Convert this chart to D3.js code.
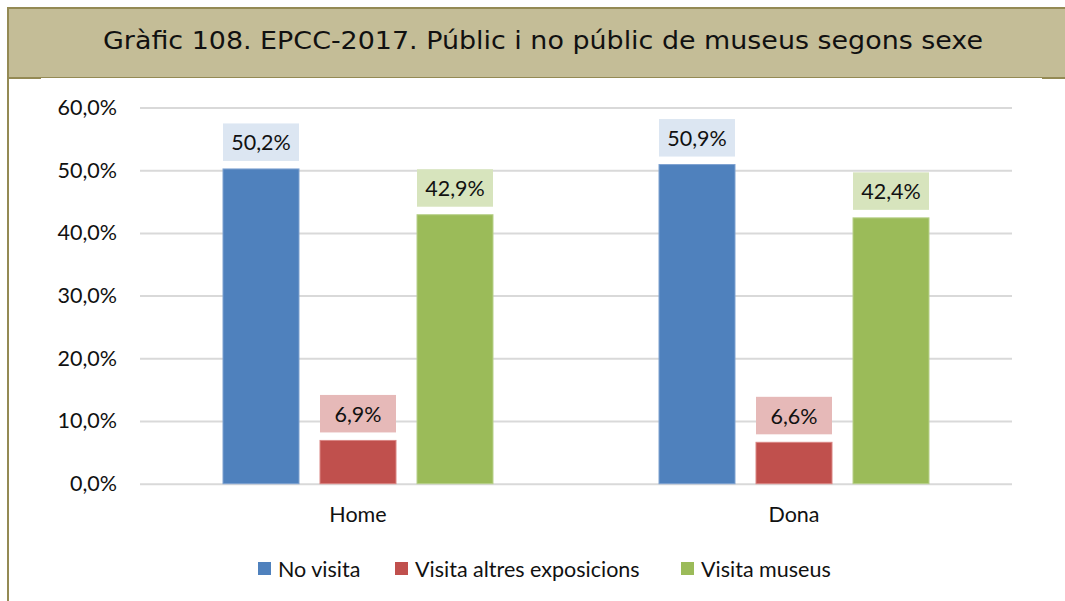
<!DOCTYPE html>
<html>
<head>
<meta charset="utf-8">
<script src="https://cdn.jsdelivr.net/npm/d3@7"></script>
<style>
  html, body { margin: 0; padding: 0; background: #fff; }
  svg { display: block; }
</style>
</head>
<body>
<svg id="chart" width="1065" height="601"></svg>
<script>
const title = "Gràfic 108. EPCC-2017. Públic i no públic de museus segons sexe";
const categories = ["Home", "Dona"];
const seriesNames = ["No visita", "Visita altres exposicions", "Visita museus"];
const noVisita = [50.2, 50.9];
const visitaAltres = [6.9, 6.6];
const visitaMuseus = [42.9, 42.4];
const yTicks = [0, 10, 20, 30, 40, 50, 60];

const seriesValues = [noVisita, visitaAltres, visitaMuseus];
const barColors = ["#4f81bd", "#c0504d", "#9bbb59"];
const labelFills = ["#dce6f2", "#e6b9b8", "#d7e4bd"];
const edgeColors = ["#7ea2d0", "#d98583", "#b7d08a"];

const W = 1065, H = 601;
const svg = d3.select("#chart");
const font = "Lato, 'Open Sans', sans-serif";
const fs = 21.5;
const fmt = v => d3.format(".1f")(v).replace(".", ",") + "%";

// Frame and header
svg.append("rect").attr("x", 7).attr("y", 7).attr("width", W - 7).attr("height", 71)
  .attr("fill", "#c4bd97");
svg.append("line").attr("x1", 7).attr("x2", W).attr("y1", 8).attr("y2", 8)
  .attr("stroke", "#948a54").attr("stroke-width", 2);
svg.append("line").attr("x1", 8).attr("x2", 8).attr("y1", 7).attr("y2", H)
  .attr("stroke", "#948a54").attr("stroke-width", 2);
svg.append("line").attr("x1", 7).attr("x2", W).attr("y1", 77.5).attr("y2", 77.5)
  .attr("stroke", "#948a54").attr("stroke-width", 1);
svg.append("line").attr("x1", 7).attr("x2", 41).attr("y1", 78.5).attr("y2", 78.5)
  .attr("stroke", "#948a54").attr("stroke-width", 1);
svg.append("line").attr("x1", 1042).attr("x2", W).attr("y1", 78.5).attr("y2", 78.5)
  .attr("stroke", "#948a54").attr("stroke-width", 1);
svg.append("text").attr("x", 543).attr("y", 42).attr("text-anchor", "middle")
  .attr("dominant-baseline", "middle")
  .attr("font-family", "'DejaVu Sans', Verdana, sans-serif").attr("font-size", 25)
  .attr("textLength", 880).attr("lengthAdjust", "spacingAndGlyphs")
  .attr("fill", "#111").text(title);

// Scales
const plotL = 140, plotR = 1012, plotT = 107.5, plotB = 483.7;
const y = d3.scaleLinear().domain([0, 60]).range([plotB, plotT]);
const x0 = d3.scaleBand().domain(categories).range([plotL, plotR]).padding(0);
const groupW = 270;
const x1 = d3.scaleBand().domain(seriesNames).range([0, groupW]).paddingInner(0.2165).paddingOuter(0);

// Gridlines / y axis
const yAxis = d3.axisLeft(y).tickValues(yTicks).tickSize(-(plotR - plotL)).tickPadding(23)
  .tickFormat(fmt);
const gy = svg.append("g").attr("transform", `translate(${plotL},0)`).call(yAxis);
gy.select(".domain").remove();
gy.selectAll(".tick line").attr("stroke", "#d9d9d9").attr("stroke-width", 2);
gy.selectAll(".tick text").attr("font-family", font).attr("font-size", fs).attr("fill", "#111");

// Bars
const groups = svg.append("g").selectAll("g").data(categories).join("g")
  .attr("transform", d => `translate(${x0(d) + x0.bandwidth() / 2 - groupW / 2},0)`);

seriesNames.forEach((s, si) => {
  groups.append("rect")
    .attr("x", x1(s))
    .attr("y", (d, ci) => y(seriesValues[si][ci]))
    .attr("width", x1.bandwidth())
    .attr("height", (d, ci) => y(0) - y(seriesValues[si][ci]))
    .attr("fill", barColors[si])
    .attr("stroke", edgeColors[si]).attr("stroke-width", 1);
  groups.append("rect")
    .attr("x", x1(s))
    .attr("y", (d, ci) => y(seriesValues[si][ci]) - 8 - 37.5)
    .attr("width", x1.bandwidth())
    .attr("height", 37.5)
    .attr("fill", labelFills[si]);
  groups.append("text")
    .attr("x", x1(s) + x1.bandwidth() / 2)
    .attr("y", (d, ci) => y(seriesValues[si][ci]) - 8 - 37.5 / 2)
    .attr("text-anchor", "middle").attr("dominant-baseline", "central")
    .attr("font-family", font).attr("font-size", fs).attr("fill", "#111")
    .text((d, ci) => fmt(seriesValues[si][ci]));
});

// Category axis labels
const xAxis = d3.axisBottom(x0).tickSize(0).tickPadding(23);
const gx = svg.append("g").attr("transform", `translate(0,${plotB})`).call(xAxis);
gx.select(".domain").remove();
gx.selectAll(".tick text").attr("font-family", font).attr("font-size", fs).attr("fill", "#111");

// Legend
const legendX = [258, 395, 681];
const lg = svg.append("g").selectAll("g").data(seriesNames).join("g")
  .attr("transform", (d, i) => `translate(${legendX[i]},562)`);
lg.append("rect").attr("width", 13).attr("height", 13).attr("fill", (d, i) => barColors[i]);
lg.append("text").attr("x", 20).attr("y", 7).attr("dominant-baseline", "central")
  .attr("font-family", font).attr("font-size", fs).attr("fill", "#111").text(d => d);
</script>
</body>
</html>
